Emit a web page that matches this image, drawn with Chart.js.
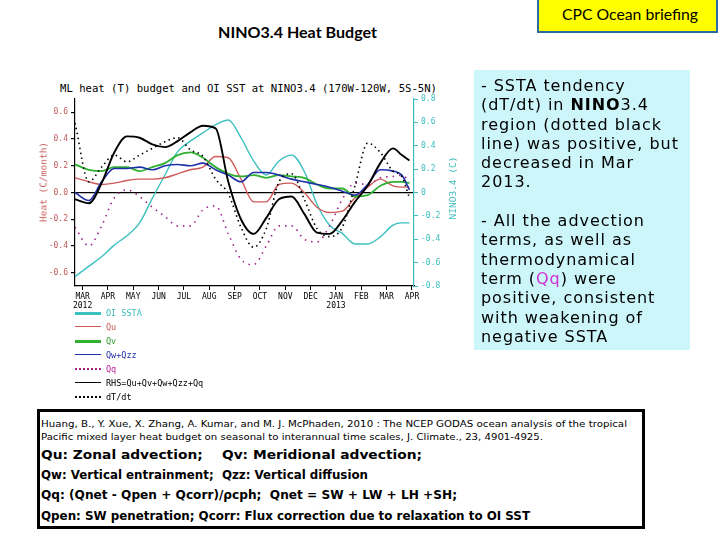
<!DOCTYPE html>
<html>
<head>
<meta charset="utf-8">
<script src="https://cdn.jsdelivr.net/npm/chart.js@4.4.1/dist/chart.umd.min.js"></script>
<style>
  html,body{margin:0;padding:0;background:#fff;}
  body{width:720px;height:540px;position:relative;overflow:hidden;font-family:"DejaVu Sans",sans-serif;}
  .abs{position:absolute;white-space:nowrap;}
  .fit{display:inline-block;transform-origin:0 50%;}
  #c{position:absolute;left:0;top:60px;}
  .leg{position:absolute;left:75px;height:14px;font:8.5px "DejaVu Sans Mono",monospace;}
  .leg .ln{position:absolute;left:0;top:6px;width:26px;}
  .leg .tx{position:absolute;left:31px;top:0;line-height:14px;}
</style>
</head>
<body>
<!-- top titles -->
<div class="abs" style="left:218px;top:23px;font:bold 15px Lato,'Open Sans',sans-serif;text-decoration:underline;">
  <span class="fit" data-w="159">NINO3.4 Heat Budget</span></div>
<div class="abs" style="left:537px;top:-2px;width:177px;height:31px;background:#ffff00;border:2px solid #2a6aa6;"></div>
<div class="abs" style="left:562px;top:6px;font:14.5px Lato,'Open Sans',sans-serif;">
  <span class="fit" data-w="136">CPC Ocean briefing</span></div>

<!-- chart title -->
<div class="abs" style="left:60px;top:83px;font:10px 'DejaVu Sans Mono',monospace;">
  <span class="fit" data-w="377">ML heat (T) budget and OI SST at NINO3.4 (170W-120W, 5S-5N)</span></div>

<canvas id="c" width="470" height="260"></canvas>

<!-- axis titles -->
<div class="abs" style="left:43px;top:182px;transform:translate(-50%,-50%) rotate(-90deg);font:9.5px 'DejaVu Sans Mono',monospace;color:#c85a5a;">Heat (C/month)</div>
<div class="abs" style="left:452px;top:188px;transform:translate(-50%,-50%) rotate(-90deg);font:9.5px 'DejaVu Sans Mono',monospace;color:#3cbcbc;">NINO3.4 (C)</div>

<!-- legend -->
<div id="legend"></div>

<!-- right text box -->
<div class="abs" style="left:474px;top:70px;width:216px;height:280px;background:#cdf6fb;"></div>
<div class="abs" style="left:481px;top:76px;font:16px 'DejaVu Sans',sans-serif;letter-spacing:0.95px;line-height:19.3px;color:#000;">
- SSTA tendency<br>
(dT/dt) in <b>NINO</b>3.4<br>
region (dotted black<br>
line) was positive, but<br>
decreased in Mar<br>
2013.<br>
<br>
- All the advection<br>
terms, as well as<br>
thermodynamical<br>
term (<span style="color:#d030d0">Qq</span>) were<br>
positive, consistent<br>
with weakening of<br>
negative SSTA
</div>

<!-- bottom box -->
<div class="abs" style="left:37px;top:409px;width:602px;height:114px;border:3px solid #000;"></div>
<div class="abs" style="left:41px;top:418px;font:9.5px 'DejaVu Sans',sans-serif;"><span class="fit" data-w="586">Huang, B., Y. Xue, X. Zhang, A. Kumar, and M. J. McPhaden, 2010 : The NCEP GODAS ocean analysis of the tropical</span></div>
<div class="abs" style="left:41px;top:431px;font:9.5px 'DejaVu Sans',sans-serif;"><span class="fit" data-w="502">Pacific mixed layer heat budget on seasonal to interannual time scales,  J. Climate., 23, 4901-4925.</span></div>
<div class="abs" style="left:41px;top:447px;font:bold 12.5px 'DejaVu Sans',sans-serif;"><span class="fit" data-w="381">Qu: Zonal advection;&nbsp;&nbsp;&nbsp;&nbsp;Qv: Meridional advection;</span></div>
<div class="abs" style="left:41px;top:467px;font:bold 12.5px 'DejaVu Sans',sans-serif;"><span class="fit" data-w="327">Qw: Vertical entrainment;&nbsp;&nbsp;Qzz: Vertical diffusion</span></div>
<div class="abs" style="left:41px;top:487px;font:bold 12.5px 'DejaVu Sans',sans-serif;"><span class="fit" data-w="416">Qq: (Qnet - Qpen + Qcorr)/ρcph;&nbsp;&nbsp;Qnet = SW + LW + LH +SH;</span></div>
<div class="abs" style="left:41px;top:508px;font:bold 12.5px 'DejaVu Sans',sans-serif;"><span class="fit" data-w="489">Qpen: SW penetration; Qcorr: Flux correction due to relaxation to OI SST</span></div>

<script>
// ---- data (months from MAR 2012 = 0) ----
const months = [-0.3, 0.25, 0.75, 1.25, 1.75, 2.25, 2.75, 3.25, 3.75, 4.25, 4.75, 5.25, 5.75, 6.25, 6.75, 7.25, 7.75, 8.25, 8.75, 9.25, 9.75, 10.25, 10.75, 11.25, 11.75, 12.25, 12.6, 12.9];
const oiSSTA = [-0.72, -0.63, -0.55, -0.45, -0.37, -0.26, -0.05, 0.15, 0.35, 0.44, 0.51, 0.58, 0.62, 0.47, 0.27, 0.15, 0.27, 0.32, 0.18, -0.10, -0.28, -0.35, -0.44, -0.44, -0.38, -0.28, -0.26, -0.26];
const qu     = [0.11, 0.08, 0.06, 0.07, 0.09, 0.10, 0.10, 0.11, 0.14, 0.17, 0.19, 0.27, 0.26, 0.10, -0.07, -0.07, 0.06, 0.07, 0.00, -0.11, -0.15, -0.14, -0.04, 0.04, 0.10, 0.05, 0.04, 0.04];
const qv     = [0.21, 0.17, 0.16, 0.19, 0.19, 0.16, 0.19, 0.22, 0.28, 0.30, 0.26, 0.19, 0.14, 0.12, 0.13, 0.11, 0.13, 0.12, 0.11, 0.06, 0.03, 0.03, -0.03, -0.02, 0.05, 0.08, 0.08, 0.07];
const qwqzz  = [0.00, -0.06, 0.08, 0.18, 0.18, 0.19, 0.17, 0.20, 0.21, 0.20, 0.22, 0.17, 0.13, 0.08, 0.15, 0.15, 0.13, 0.10, 0.08, 0.06, 0.04, 0.01, -0.02, 0.06, 0.17, 0.16, 0.13, 0.02];
const qq     = [-0.26, -0.40, -0.25, -0.04, 0.02, -0.03, -0.11, -0.18, -0.25, -0.25, -0.13, -0.10, -0.31, -0.50, -0.54, -0.40, -0.25, -0.25, -0.35, -0.37, -0.25, -0.05, 0.07, 0.06, 0.11, 0.12, 0.13, 0.08];
const rhs    = [-0.05, -0.08, 0.07, 0.30, 0.42, 0.41, 0.36, 0.34, 0.385, 0.45, 0.50, 0.48, 0.08, -0.20, -0.31, -0.19, -0.05, -0.03, -0.16, -0.30, -0.31, -0.21, -0.07, 0.05, 0.22, 0.33, 0.28, 0.24];
const dTdt   = [0.52, 0.08, 0.19, 0.28, 0.23, 0.28, 0.33, 0.38, 0.41, 0.32, 0.27, 0.10, -0.01, -0.26, -0.41, -0.27, 0.08, 0.14, -0.05, -0.27, -0.33, -0.26, 0.05, 0.37, 0.30, 0.16, 0.12, -0.04];

const tickMonths  = [0,1,2,3,4,5,6,7,8,9,10,11,12,13];
const monthLabels = ['MAR','APR','MAY','JUN','JUL','AUG','SEP','OCT','NOV','DEC','JAN','FEB','MAR','APR'];
const yearLabels  = ['2012','','','','','','','','','','2013','','',''];
const leftTicks   = [-0.6,-0.4,-0.2,0,0.2,0.4,0.6];
const rightTicks  = [-0.8,-0.6,-0.4,-0.2,0,0.2,0.4,0.6,0.8];
const seriesNames = ['OI SSTA','Qu','Qv','Qw+Qzz','Qq','RHS=Qu+Qv+Qw+Qzz+Qq','dT/dt'];

const C = {teal:'#3cc0c0', red:'#d05a5a', green:'#30b030', blue:'#2030a8', mag:'#a02088', black:'#000'};
const pts = arr => months.map((m,i)=>({x:m,y:arr[i]}));
const base = {pointRadius:0, cubicInterpolationMode:'monotone', fill:false};

const datasets = [
  {...base, label:seriesNames[6], data:pts(dTdt), borderColor:C.black, borderWidth:1.6, borderDash:[1.5,3.5], yAxisID:'y', order:1},
  {...base, label:seriesNames[5], data:pts(rhs), borderColor:C.black, borderWidth:1.9, yAxisID:'y', order:2},
  {...base, label:seriesNames[3], data:pts(qwqzz), borderColor:C.blue, borderWidth:1.6, yAxisID:'y', order:3},
  {...base, label:seriesNames[2], data:pts(qv), borderColor:C.green, borderWidth:1.8, yAxisID:'y', order:4},
  {...base, label:seriesNames[1], data:pts(qu), borderColor:C.red, borderWidth:1.4, yAxisID:'y', order:5},
  {...base, label:seriesNames[4], data:pts(qq), borderColor:C.mag, borderWidth:1.6, borderDash:[1.5,5], yAxisID:'y', order:6},
  {...base, label:seriesNames[0], data:pts(oiSSTA), borderColor:C.teal, borderWidth:1.4, yAxisID:'y2', order:7},
];

const tickFont = {family:"'DejaVu Sans Mono', monospace", size:8};

new Chart(document.getElementById('c'), {
  type:'line',
  data:{datasets},
  options:{
    responsive:false, animation:false,
    layout:{padding:{top:39,left:0,right:0,bottom:0}},
    plugins:{legend:{display:false}, tooltip:{enabled:false}, title:{display:false}},
    scales:{
      x:{type:'linear', min:-0.3, max:13.08,
        afterBuildTicks:s=>{s.ticks=tickMonths.map(v=>({value:v}));},
        afterFit:s=>{s.height=34;},
        ticks:{autoSkip:false, maxRotation:0, minRotation:0, color:'#000', font:tickFont, padding:2,
          callback:(v,i)=> yearLabels[i] ? [monthLabels[i], yearLabels[i]] : monthLabels[i]},
        grid:{drawOnChartArea:false, tickColor:'#000', tickLength:4},
        border:{color:'#000', width:1.2}},
      y:{position:'left', min:-0.7, max:0.7,
        afterBuildTicks:s=>{s.ticks=leftTicks.map(v=>({value:v}));},
        afterFit:s=>{s.width=75;},
        ticks:{color:'#c05a5a', font:tickFont, padding:3, callback:v=>v.toFixed(1)},
        grid:{color:c=>(c.tick && c.tick.value===0)?'#000':'rgba(0,0,0,0)', lineWidth:1.2, tickColor:'#000', tickLength:4},
        border:{color:'#000', width:1.2}},
      y2:{position:'right', min:-0.8, max:0.8,
        afterBuildTicks:s=>{s.ticks=rightTicks.map(v=>({value:v}));},
        afterFit:s=>{s.width=56;},
        ticks:{color:'#3cbcbc', font:tickFont, padding:3, callback:v=>v===0?'0':v.toFixed(1)},
        grid:{drawOnChartArea:false, tickColor:'#3cbcbc', tickLength:4},
        border:{color:'#3cbcbc', width:1.2}}
    }
  }
});

// legend (HTML)
const legendStyle = [
  {c:C.teal, w:3, dash:false, tc:'#3cbcbc'},
  {c:C.red, w:1.5, dash:false, tc:'#c85a5a'},
  {c:C.green, w:3, dash:false, tc:'#30a030'},
  {c:C.blue, w:1.5, dash:false, tc:C.blue},
  {c:C.mag, w:2, dash:true, tc:'#c020a0'},
  {c:'#000', w:1.5, dash:false, tc:'#000'},
  {c:'#000', w:2, dash:true, tc:'#000'}
];
const legTop = [306, 320, 334, 348, 362, 376, 390];
const lg = document.getElementById('legend');
seriesNames.forEach((n,i)=>{
  const s = legendStyle[i];
  const d = document.createElement('div');
  d.className='leg'; d.style.top=legTop[i]+'px'; d.style.width='300px';
  const ln = document.createElement('div'); ln.className='ln';
  ln.style.borderTop = s.w+'px '+(s.dash?'dotted':'solid')+' '+s.c;
  const tx = document.createElement('div'); tx.className='tx'; tx.style.color=s.tc; tx.textContent=n;
  d.appendChild(ln); d.appendChild(tx); lg.appendChild(d);
});

// fit text widths
document.querySelectorAll('.fit').forEach(el=>{
  const t = +el.dataset.w; const w = el.getBoundingClientRect().width;
  if (w>0) el.style.transform = 'scaleX('+(t/w)+')';
});
</script>
</body>
</html>
